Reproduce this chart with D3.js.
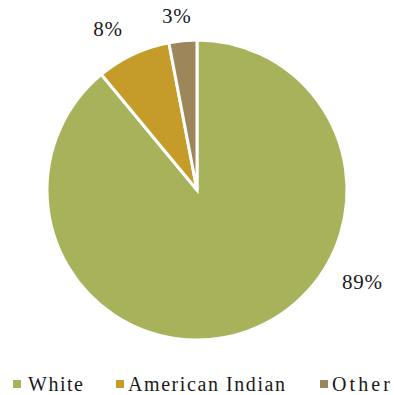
<!DOCTYPE html>
<html>
<head>
<meta charset="utf-8">
<script src="https://cdn.jsdelivr.net/npm/d3@7"></script>
<style>
  html, body { margin: 0; padding: 0; background: #fff; }
  svg { display: block; }
</style>
</head>
<body>
<svg id="chart" width="394" height="395"></svg>
<script>
// Population share by group
const categories = ["White", "American Indian", "Other"];
const shares = [89, 8, 3];
const colors = ["#A8B25B", "#C59B2A", "#9D865A"];

const FONT = "'Liberation Serif', 'Times New Roman', Times, 'DejaVu Serif', serif";

const svg = d3.select("#chart");
const cx = 197, cy = 190, radius = 150;

const color = d3.scaleOrdinal().domain(categories).range(colors);

const pie = d3.pie().sort(null).value(d => d.value);
const arcs = pie(categories.map((c, i) => ({ name: c, value: shares[i] })));
const arc = d3.arc().innerRadius(0).outerRadius(radius);

const g = svg.append("g").attr("transform", `translate(${cx},${cy})`);

g.selectAll("path.slice")
  .data(arcs)
  .join("path")
  .attr("class", "slice")
  .attr("d", arc)
  .attr("fill", d => color(d.data.name))
  .attr("stroke", "#fff")
  .attr("stroke-width", 3)
  .attr("stroke-linejoin", "miter");

// Percentage labels placed outside the pie, relative to the radius
const labelPos = {
  "White": [1.103, 0.66],
  "American Indian": [-0.593, -1.027],
  "Other": [-0.135, -1.113]
};
g.selectAll("text.pct")
  .data(arcs)
  .join("text")
  .attr("class", "pct")
  .attr("x", d => labelPos[d.data.name][0] * radius)
  .attr("y", d => labelPos[d.data.name][1] * radius)
  .attr("text-anchor", "middle")
  .attr("font-family", FONT)
  .attr("font-size", 21)
  .attr("fill", "#1a1a1a")
  .attr("letter-spacing", 0.8)
  .text(d => d.data.value + "%");

// Legend along the bottom
const legendX = [13, 116, 320];
const legendW = [55, 157, 58];
const legend = svg.append("g");
const items = legend.selectAll("g.item")
  .data(categories)
  .join("g")
  .attr("class", "item")
  .attr("transform", (d, i) => `translate(${legendX[i]},380)`);
items.append("rect")
  .attr("width", 8).attr("height", 8)
  .attr("fill", d => color(d));
items.append("text")
  .attr("x", (d, i) => i === 0 ? 15 : 12)
  .attr("y", 10.5)
  .attr("font-family", FONT)
  .attr("font-size", 20)
  .attr("fill", "#1a1a1a")
  .attr("textLength", (d, i) => legendW[i])
  .attr("lengthAdjust", "spacing")
  .text(d => d);
</script>
</body>
</html>
